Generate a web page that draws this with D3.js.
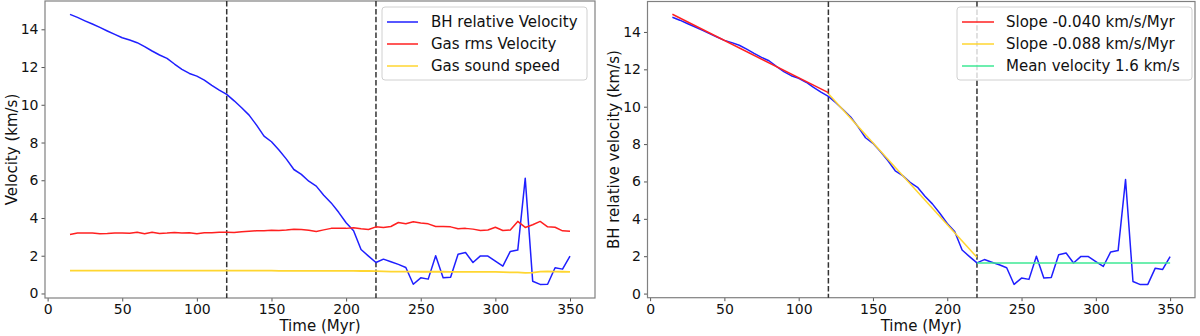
<!DOCTYPE html>
<html><head><meta charset="utf-8">
<script src="https://cdn.jsdelivr.net/npm/d3@7"></script>
<style>
body{margin:0;background:#fff;}
svg text{font-family:"DejaVu Sans",sans-serif;fill:#111;}
</style></head>
<body><svg id="c" width="1200" height="336"></svg>
<script>
const time = [15,20,25,30,35,40,45,50,55,60,65,70,75,80,85,90,95,100,105,110,115,120,125,130,135,140,145,150,155,160,165,170,175,180,185,190,195,200,205,210,215,220,225,230,235,240,245,250,255,260,265,270,275,280,285,290,295,300,305,310,315,320,325,330,335,340,345,350];
const bhVelocity = [14.79,14.63,14.45,14.28,14.10,13.91,13.73,13.55,13.43,13.29,13.08,12.85,12.64,12.46,12.16,11.88,11.66,11.52,11.31,11.03,10.78,10.55,10.21,9.84,9.45,8.92,8.34,8.04,7.60,7.12,6.57,6.31,5.95,5.69,5.21,4.80,4.30,3.75,3.32,2.33,1.98,1.64,1.82,1.68,1.54,1.38,0.49,0.83,0.76,2.00,0.83,0.86,2.08,2.17,1.64,1.99,1.98,1.71,1.45,2.23,2.30,6.10,0.65,0.48,0.49,1.36,1.29,1.98];
const gasRms = [3.13,3.21,3.21,3.20,3.17,3.18,3.20,3.21,3.19,3.25,3.16,3.24,3.18,3.20,3.23,3.21,3.22,3.17,3.22,3.22,3.24,3.25,3.23,3.27,3.30,3.32,3.33,3.35,3.34,3.36,3.40,3.39,3.35,3.29,3.37,3.45,3.45,3.45,3.48,3.43,3.39,3.53,3.50,3.55,3.76,3.69,3.80,3.74,3.69,3.55,3.55,3.53,3.43,3.45,3.41,3.34,3.36,3.51,3.34,3.36,3.82,3.50,3.64,3.82,3.53,3.51,3.32,3.30];
const soundSpeed = [1.21,1.21,1.21,1.21,1.21,1.21,1.21,1.21,1.21,1.21,1.21,1.21,1.21,1.21,1.21,1.21,1.21,1.21,1.21,1.21,1.21,1.21,1.21,1.21,1.21,1.21,1.21,1.21,1.20,1.20,1.20,1.20,1.20,1.20,1.20,1.20,1.20,1.20,1.20,1.19,1.19,1.18,1.17,1.16,1.16,1.16,1.16,1.15,1.15,1.15,1.15,1.14,1.14,1.14,1.14,1.14,1.14,1.14,1.13,1.12,1.12,1.09,1.10,1.16,1.17,1.16,1.15,1.14];
const fitEarly = [[15,14.95],[120,10.75]];
const fitMid = [[120,10.70],[220,1.94]];
const fitLate = [[220,1.64],[350,1.64]];
const phaseLines = [120,220];
const xTicks = [0,50,100,150,200,250,300,350];
const yTicks = [0,2,4,6,8,10,12,14];
const leftLegend = ["BH relative Velocity","Gas rms Velocity","Gas sound speed"];
const rightLegend = ["Slope -0.040 km/s/Myr","Slope -0.088 km/s/Myr","Mean velocity 1.6 km/s"];

const svg = d3.select("#c");
const BLUE="#1f1fff", RED="#ff2020", GOLD="#ffd630", GREEN="#3de894";

function panel(x0,x1,y0,y1,yDom,ylab,ylabX){
  const g = svg.append("g");
  const x = d3.scaleLinear().domain([-1.75,366.75]).range([x0,x1]);
  const y = d3.scaleLinear().domain(yDom).range([y1,y0]);
  const xa = g.append("g").attr("transform",`translate(0,${y1})`)
    .call(d3.axisBottom(x).tickValues(xTicks).tickSize(3.5).tickPadding(2.5));
  const ya = g.append("g").attr("transform",`translate(${x0},0)`)
    .call(d3.axisLeft(y).tickValues(yTicks).tickSize(3.5).tickPadding(3));
  [xa,ya].forEach(a=>{a.select(".domain").remove();a.selectAll("line").attr("stroke","#555");
    a.selectAll("text").style("font-size","14px").attr("fill","#111");});
  g.append("rect").attr("x",x0).attr("y",y0).attr("width",x1-x0).attr("height",y1-y0)
    .attr("fill","none").attr("stroke","#808080").attr("stroke-width",1.2);
  g.append("text").attr("x",(x0+x1)/2).attr("y",330.5).attr("text-anchor","middle")
    .style("font-size","15px").text("Time (Myr)");
  g.append("text").attr("transform",`translate(${ylabX},${(y0+y1)/2}) rotate(-90)`)
    .attr("text-anchor","middle").attr("dominant-baseline","central").style("font-size","15px").text(ylab);
  return {g,x,y};
}
function line(p,xs,ys,color,w){
  p.g.append("path").datum(xs.map((t,i)=>[t,ys[i]]))
    .attr("d",d3.line().x(d=>p.x(d[0])).y(d=>p.y(d[1])))
    .attr("fill","none").attr("stroke",color).attr("stroke-width",w||1.5).attr("stroke-linejoin","round");
}
function fit(p,pts,color){
  p.g.append("path").datum(pts).attr("d",d3.line().x(d=>p.x(d[0])).y(d=>p.y(d[1])))
    .attr("fill","none").attr("stroke",color).attr("stroke-width",1.5);
}
function vlines(p,y0,y1){
  phaseLines.forEach(v=>p.g.append("line").attr("x1",p.x(v)).attr("x2",p.x(v)).attr("y1",y0).attr("y2",y1)
    .attr("stroke","#333").attr("stroke-width",1.5).attr("stroke-dasharray","5.5,2.4"));
}
function legend(p,bx,by,bw,bh,labels,colors,hx0,hx1,tx){
  p.g.append("rect").attr("x",bx).attr("y",by).attr("width",bw).attr("height",bh).attr("rx",3)
    .attr("fill","#fff").attr("fill-opacity",0.8).attr("stroke","#d0d0d0");
  labels.forEach((l,i)=>{
    const yy = by+15+i*22;
    p.g.append("line").attr("x1",hx0).attr("x2",hx1).attr("y1",yy).attr("y2",yy).attr("stroke",colors[i]).attr("stroke-width",1.5);
    p.g.append("text").attr("x",tx).attr("y",yy).attr("dominant-baseline","central").style("font-size","15px").text(l);
  });
}

// Left
const L = panel(45,595,1,298,[-0.24,15.5],"Velocity (km/s)",12);
vlines(L,1,298);
line(L,time,bhVelocity,BLUE);
line(L,time,gasRms,RED);
line(L,time,soundSpeed,GOLD,1.8);
legend(L,382,7,205,73,leftLegend,[BLUE,RED,GOLD],387,418,431);

// Right
const R = panel(647.5,1195,1.5,297.7,[-0.22,15.63],"BH relative velocity (km/s)",614);
vlines(R,1.5,297.7);
line(R,time,bhVelocity,BLUE);
fit(R,fitEarly,RED);
fit(R,fitMid,GOLD);
fit(R,fitLate,GREEN);
legend(R,957,7,235,73,rightLegend,[RED,GOLD,GREEN],962,994,1006);
</script></body></html>
